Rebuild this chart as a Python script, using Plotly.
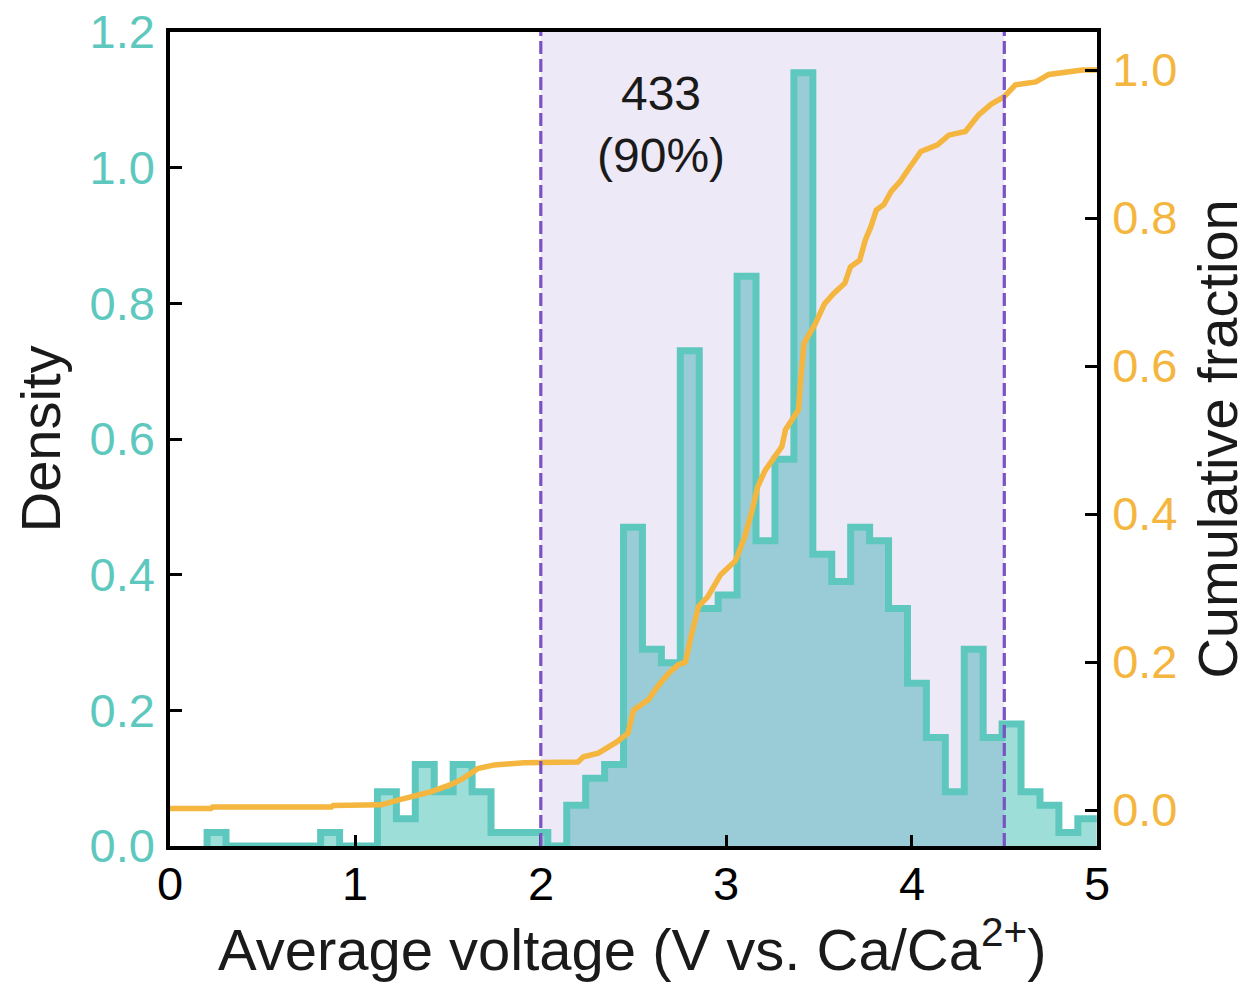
import plotly.graph_objects as go

# ---------------- data ----------------
bin_start = 0.2
bin_width = 0.1021
density = [0.02, 0, 0, 0, 0, 0, 0.02, 0, 0, 0.08,
           0.04, 0.12, 0.08, 0.12, 0.08, 0.02, 0.02, 0.02, 0, 0.06,
           0.10, 0.12, 0.47, 0.29, 0.27, 0.73, 0.35, 0.37, 0.84, 0.45,
           0.57, 1.14, 0.43, 0.39, 0.47, 0.45, 0.35, 0.24, 0.16, 0.08,
           0.29, 0.16, 0.18, 0.08, 0.06, 0.02, 0.04]

cdf_x = [0.00, 0.22, 0.23, 0.87, 0.88, 1.12, 1.14, 1.24, 1.33, 1.41,
         1.51, 1.57, 1.66, 1.75, 1.91, 2.20, 2.23, 2.29, 2.31, 2.41,
         2.47, 2.50, 2.58, 2.63, 2.69, 2.74, 2.78, 2.81, 2.85, 2.90,
         2.97, 3.05, 3.10, 3.14, 3.17, 3.21, 3.30, 3.32, 3.39, 3.40,
         3.42, 3.48, 3.53, 3.58, 3.64, 3.67, 3.72, 3.75, 3.78, 3.81,
         3.85, 3.89, 3.94, 3.98, 4.05, 4.14, 4.20, 4.29, 4.36, 4.43,
         4.50, 4.56, 4.67, 4.74, 4.83, 4.92, 5.00]
cdf_v = [0.002, 0.002, 0.004, 0.004, 0.006, 0.006, 0.007, 0.014, 0.019, 0.025,
         0.034, 0.041, 0.056, 0.061, 0.064, 0.065, 0.072, 0.076, 0.077, 0.092,
         0.104, 0.135, 0.149, 0.167, 0.185, 0.196, 0.200, 0.234, 0.275, 0.288,
         0.318, 0.337, 0.369, 0.405, 0.437, 0.459, 0.491, 0.514, 0.541, 0.577,
         0.631, 0.657, 0.684, 0.698, 0.712, 0.734, 0.743, 0.770, 0.788, 0.811,
         0.818, 0.836, 0.850, 0.865, 0.890, 0.899, 0.912, 0.917, 0.939, 0.954,
         0.964, 0.980, 0.984, 0.994, 0.997, 1.000, 1.000]

window_lo, window_hi = 2.0, 4.5
window_count = "433"
window_pct = "(90%)"
label_x, label_y = 2.65, 1.064

x_ticks = [0, 1, 2, 3, 4, 5]
y_ticks = [0.0, 0.2, 0.4, 0.6, 0.8, 1.0, 1.2]
y2_ticks = [0.0, 0.2, 0.4, 0.6, 0.8, 1.0]

# ---------------- styling ----------------
TEAL = "#5EC8BF"
TEAL_FILL = "rgba(94,200,191,0.6)"
SHADE = "rgba(126,87,194,0.13)"
PURPLE = "#7B52C4"
ORANGE = "#F4B63F"
FONT = "Liberation Sans, Arial, Helvetica, sans-serif"

x_range = [0, 5]
y_range = [0, 1.2]
y2_range = [-0.0486, 1.0514]

edges = [bin_start + i * bin_width for i in range(len(density) + 1)]
step_x = [edges[0]] + edges
step_y = [0] + density + [density[-1]]

fig = go.Figure()

# histogram fill
fig.add_trace(go.Scatter(x=step_x, y=step_y, mode="lines",
                         line=dict(shape="hv", width=0, color=TEAL_FILL),
                         fill="tozeroy", fillcolor=TEAL_FILL,
                         hoverinfo="skip", showlegend=False))
# shaded window
fig.add_trace(go.Scatter(x=[window_lo, window_lo, window_hi, window_hi],
                         y=[y_range[0], y_range[1], y_range[1], y_range[0]],
                         mode="lines", line=dict(width=0), fill="toself",
                         fillcolor=SHADE, hoverinfo="skip", showlegend=False))
# histogram outline
fig.add_trace(go.Scatter(x=step_x, y=step_y, mode="lines",
                         line=dict(shape="hv", width=7, color=TEAL),
                         showlegend=False))
# cumulative fraction
fig.add_trace(go.Scatter(x=cdf_x, y=cdf_v, mode="lines", yaxis="y2",
                         line=dict(width=5.5, color=ORANGE),
                         showlegend=False))

for xv in (window_lo, window_hi):
    fig.add_shape(type="line", x0=xv, x1=xv, xref="x", yref="paper",
                  y0=0, y1=1, layer="above",
                  line=dict(color=PURPLE, width=3.2, dash="13px,5px"))

fig.add_annotation(x=label_x, y=label_y, xref="x", yref="y",
                   text=window_count + "<br>" + window_pct, showarrow=False,
                   font=dict(family=FONT, size=48, color="#1a1a1a"),
                   xanchor="center", yanchor="middle", align="center")

# x tick labels (placed as text just under the axis)
for t in x_ticks:
    fig.add_annotation(x=t, y=-0.0455, xref="x", yref="paper", text=str(t),
                       showarrow=False, xanchor="center", yanchor="middle",
                       font=dict(family=FONT, size=47, color="black"))

# axis titles as annotations
fig.add_annotation(x=-0.14, y=0.5, xref="paper", yref="paper", text="Density",
                   textangle=-90, showarrow=False,
                   font=dict(family=FONT, size=56, color="#1a1a1a"),
                   xanchor="center", yanchor="middle")
fig.add_annotation(x=1.129, y=0.5, xref="paper", yref="paper",
                   text="Cumulative fraction", textangle=-90, showarrow=False,
                   font=dict(family=FONT, size=56, color="#1a1a1a"),
                   xanchor="center", yanchor="middle")
fig.add_annotation(x=0.499, y=-0.122, xref="paper", yref="paper",
                   text="Average voltage (V vs. Ca/Ca<sup>2+</sup>)",
                   showarrow=False,
                   font=dict(family=FONT, size=58, color="#1a1a1a"),
                   xanchor="center", yanchor="middle")

fig.update_layout(
    width=1248, height=982,
    margin=dict(l=170, r=151, t=32, b=136, autoexpand=False),
    paper_bgcolor="white", plot_bgcolor="white",
    font=dict(family=FONT),
    xaxis=dict(range=x_range, tickvals=x_ticks, showticklabels=False,
               ticks="inside", ticklen=11, tickwidth=3, tickcolor="black",
               showline=True, linecolor="black", linewidth=3.5, mirror=True,
               showgrid=False, zeroline=False, automargin=False),
    yaxis=dict(range=y_range, tickvals=y_ticks,
               ticktext=["%.1f" % t for t in y_ticks],
               ticks="inside", ticklen=12, tickwidth=3, tickcolor="black",
               showline=True, linecolor="black", linewidth=3.5,
               showgrid=False, zeroline=False, automargin=False,
               tickfont=dict(family=FONT, size=47, color=TEAL),
               ticklabelstandoff=2),
    yaxis2=dict(range=y2_range, tickvals=y2_ticks,
                ticktext=["%.1f" % t for t in y2_ticks],
                overlaying="y", side="right",
                ticks="inside", ticklen=12, tickwidth=3, tickcolor="black",
                showline=True, linecolor="black", linewidth=3.5,
                showgrid=False, zeroline=False, automargin=False,
                tickfont=dict(family=FONT, size=47, color=ORANGE),
                ticklabelstandoff=2),
)

fig.write_html("out.html",
               config={"displayModeBar": False},
               post_script="document.body.style.margin='0';"
                           "document.body.style.overflow='hidden';")
